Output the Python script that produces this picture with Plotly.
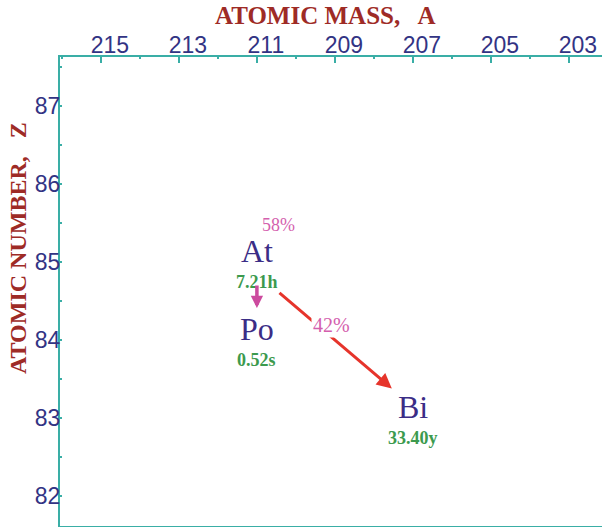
import plotly.graph_objects as go

# Nuclides in the chain and their positions on the (A, Z) chart
nuclides = ["At", "Po", "Bi"]
mass_number = [211, 211, 207]
atomic_number = [85, 84, 83]
half_lives = ["7.21h", "0.52s", "33.40y"]

# Decay branches: parent index -> daughter index, branching ratio
branch_from = [0, 0]
branch_to = [1, 2]
branch_ratio = ["58%", "42%"]

# Axis tick values
mass_ticks = [215, 213, 211, 209, 207, 205, 203]
z_ticks = [82, 83, 84, 85, 86, 87]

TEAL = "#3aaea6"
NAVY = "#323484"
DARK_RED = "#9e2b26"
SYMBOL = "#3b2d86"
GREEN = "#3c9a4e"
PINK = "#d45fae"
MAGENTA = "#cc4a9e"
RED = "#e6342b"
SERIF = "Liberation Serif, Times New Roman, serif"
SANS = "Liberation Sans, Arial, sans-serif"

fig = go.Figure()

# invisible trace so both axes are active
fig.add_trace(go.Scatter(x=mass_number, y=atomic_number, mode="markers",
                         marker=dict(size=1, opacity=0), hoverinfo="skip",
                         showlegend=False))

annotations = []

# nuclide symbol and half-life
for sym, a, z, t in zip(nuclides, mass_number, atomic_number, half_lives):
    annotations.append(dict(x=a, y=z + 0.14, xref="x", yref="y", text=sym,
                            showarrow=False,
                            font=dict(family=SERIF, size=32, color=SYMBOL)))
    annotations.append(dict(x=a, y=z - 0.26, xref="x", yref="y",
                            text=f"<b>{t}</b>", showarrow=False,
                            font=dict(family=SERIF, size=18, color=GREEN)))

# decay arrows
for p, d, r in zip(branch_from, branch_to, branch_ratio):
    pa, pz = mass_number[p], atomic_number[p]
    da, dz = mass_number[d], atomic_number[d]
    if pa == da:
        # same mass number: straight down one row
        x0, y0, x1, y1 = pa, pz - 0.28, da, dz + 0.41
        annotations.append(dict(x=x1, y=y1, ax=x0, ay=y0, xref="x", yref="y",
                                axref="x", ayref="y", text="", showarrow=True,
                                arrowhead=2, arrowsize=0.7, arrowwidth=3.5,
                                arrowcolor=MAGENTA))
        annotations.append(dict(x=pa - 0.55, y=pz + 0.47, xref="x", yref="y",
                                text=r, showarrow=False,
                                font=dict(family=SERIF, size=18, color=PINK)))
    else:
        x0, y0 = pa - 0.54, pz - 0.38
        x1, y1 = da + 0.54, dz + 0.38
        annotations.append(dict(x=x1, y=y1, ax=x0, ay=y0, xref="x", yref="y",
                                axref="x", ayref="y", text="", showarrow=True,
                                arrowhead=2, arrowsize=1.0, arrowwidth=3,
                                arrowcolor=RED))
        annotations.append(dict(x=(x0 + x1) / 2 + 0.09, y=(y0 + y1) / 2 + 0.19,
                                xref="x", yref="y", text=r, showarrow=False,
                                bgcolor="white", borderpad=1,
                                font=dict(family=SERIF, size=20, color=PINK)))

# page geometry
W, H = 602, 527
L, T, R, B = 60, 57, 0, 1
pw, ph = W - L - R, H - T - B


def px_to_paper(px, py):
    return (px - L) / pw, 1 - (py - T) / ph


# axis titles
tx, ty = px_to_paper(325, 16)
annotations.append(dict(x=tx, y=ty, xref="paper", yref="paper",
                        xanchor="center", yanchor="middle",
                        text="<b>ATOMIC MASS,&nbsp;&nbsp; A</b>",
                        showarrow=False,
                        font=dict(family=SERIF, size=25, color=DARK_RED)))
tx, ty = px_to_paper(18, 248)
annotations.append(dict(x=tx, y=ty, xref="paper", yref="paper",
                        xanchor="center", yanchor="middle",
                        text="<b>ATOMIC NUMBER,&nbsp;&nbsp; Z</b>",
                        showarrow=False, textangle=-90,
                        font=dict(family=SERIF, size=24, color=DARK_RED)))

fig.update_layout(
    width=W, height=H,
    margin=dict(l=L, r=R, t=T, b=B, pad=0),
    paper_bgcolor="white", plot_bgcolor="white",
    showlegend=False,
    annotations=annotations,
    xaxis=dict(
        side="top", range=[216.05, 202.15], tickvals=mass_ticks,
        ticks="inside", ticklen=6, tickwidth=2, tickcolor=TEAL,
        minor=dict(dtick=1, tick0=203, ticks="inside", ticklen=2,
                   tickwidth=2, tickcolor=TEAL),
        showline=True, linecolor=TEAL, linewidth=2, mirror=True,
        showgrid=False, zeroline=False,
        tickfont=dict(family=SANS, size=23, color=NAVY),
        ticklabelshift=-9, ticklabelstandoff=-7,
    ),
    yaxis=dict(
        range=[81.615, 87.63], tickvals=z_ticks,
        ticks="inside", ticklen=0, tickwidth=2, tickcolor=TEAL,
        minor=dict(dtick=0.5, tick0=82, ticks="inside", ticklen=2,
                   tickwidth=2, tickcolor=TEAL),
        showline=True, linecolor=TEAL, linewidth=2,
        showgrid=False, zeroline=False,
        tickfont=dict(family=SANS, size=23, color=NAVY),
        ticklabelstandoff=-7,
    ),
)

fig.write_html("out.html")
